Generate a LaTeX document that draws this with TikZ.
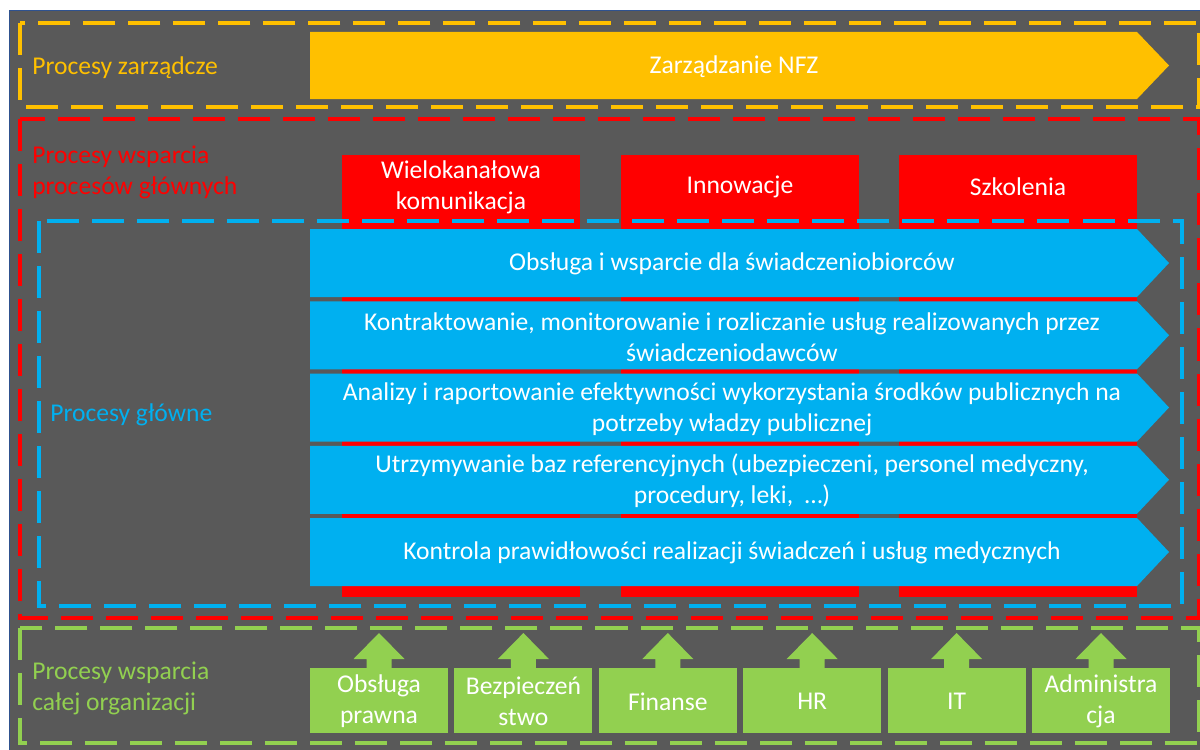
\documentclass[tikz,border=0pt]{standalone}
\usepackage{fontspec}
\setmainfont{Carlito}

\definecolor{tlo}{HTML}{595959}
\definecolor{obrys}{HTML}{2F528F}
\definecolor{zolty}{HTML}{FFC000}
\definecolor{czerwony}{HTML}{FF0000}
\definecolor{niebieski}{HTML}{00B0F0}
\definecolor{zielony}{HTML}{92D050}

\begin{document}
\begin{tikzpicture}[x=0.025cm, y=-0.025cm,
	ramka/.style={line width=0.1cm, dash pattern=on 0.8cm off 0.325cm},
	etykieta/.style={anchor=west, align=left, inner sep=0pt, font=\fontsize{18.2}{22}\selectfont},
	tekst/.style={white, align=center, inner sep=0pt, font=\fontsize{18.2}{22}\selectfont}]
	\fill[white] (0,0) rectangle (1200,749);
	\useasboundingbox (0,0) rectangle (1200,749);
	\filldraw[fill=tlo, draw=obrys, line width=0.6pt] (9,10) rectangle (1201,750);
	
	% Procesy zarzadcze
	\draw[ramka, zolty] (20,23) rectangle (1199,107);
	\fill[zolty] (310,32) -- (1137,32) -- (1169,65.5) -- (1137,99) -- (310,99) -- cycle;
	
	% Procesy wsparcia procesow glownych
	\draw[ramka, czerwony] (20,119) rectangle (1199,618);
	\foreach \x in {342,621,899}{
		\fill[czerwony] (\x,155) rectangle ++(238,442);
	}
	
	% Procesy glowne
	\draw[ramka, niebieski] (39,221) rectangle (1182,606);
	\foreach \g in {229,301.25,373.5,445.75,518}{
		\fill[niebieski] (310,\g) -- (1137,\g) -- (1169,\g+34) -- (1137,\g+68) -- (310,\g+68) -- cycle;
	}
	
	% Procesy wsparcia calej organizacji
	\draw[ramka, zielony] (20,628) rectangle (1199,743);
	\foreach \x in {310,454.4,598.8,743.2,887.6,1032}{
		\fill[zielony] (\x,668) rectangle ++(138,65);
		\fill[zielony] (\x+56.5,668) -- (\x+56.5,659) -- (\x+43.5,659) -- (\x+69,633)
			-- (\x+94.5,659) -- (\x+81.5,659) -- (\x+81.5,668) -- cycle;
	}
	
	% Etykiety
	\node[etykieta, zolty] (lzarz) at (32,68) {Procesy zarządcze};
	\node[etykieta, czerwony] (lwsp) at (32,172.5) {Procesy wsparcia\\procesów głównych};
	\node[etykieta, niebieski] (lglowne) at (50,415) {Procesy główne};
	\node[etykieta, zielony] (lorg) at (32,688) {Procesy wsparcia\\całej organizacji};
	
	% Teksty
	\node[tekst] (nfz) at (734,67) {Zarządzanie NFZ};
	\node[tekst] (wielokanal) at (461,187) {Wielokanałowa\\komunikacja};
	\node[tekst] (innowacje) at (740,187) {Innowacje};
	\node[tekst] (szkolenia) at (1018,187) {Szkolenia};
	\node[tekst] (obsluga) at (732,264) {Obsługa i wsparcie dla świadczeniobiorców};
	\node[tekst] (kontrakt) at (732,337) {Kontraktowanie, monitorowanie i rozliczanie usług realizowanych przez\\świadczeniodawców};
	\node[tekst] (analizy) at (732,409) {Analizy i raportowanie efektywności wykorzystania środków publicznych na\\potrzeby władzy publicznej};
	\node[tekst] (bazy) at (732,481) {Utrzymywanie baz referencyjnych (ubezpieczeni, personel medyczny,\\procedury, leki,\ \ …)};
	\node[tekst] (kontrola) at (732,553) {Kontrola prawidłowości realizacji świadczeń i usług medycznych};
	
	\node[tekst] (prawna) at (379,701.5) {Obsługa\\prawna};
	\node[tekst] (bezp) at (523.4,701.5) {Bezpieczeń\\stwo};
	\node[tekst] (finanse) at (667.8,701.5) {Finanse};
	\node[tekst] (hr) at (812.2,701.5) {HR};
	\node[tekst] (it) at (956.6,701.5) {IT};
	\node[tekst] (admin) at (1101,701.5) {Administra\\cja};
\end{tikzpicture}
\end{document}
